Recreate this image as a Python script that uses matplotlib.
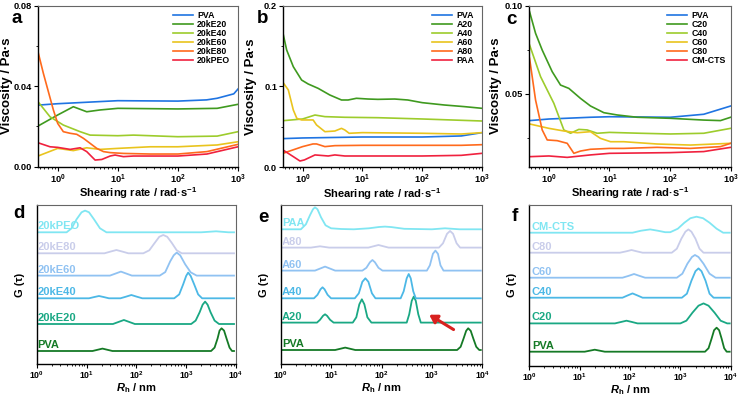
import numpy as np
import matplotlib
matplotlib.use('Agg')
import matplotlib.pyplot as plt
from matplotlib.ticker import FixedLocator, NullFormatter, FixedFormatter

plt.rcParams['font.family'] = ['Liberation Sans', 'DejaVu Sans']
plt.rcParams['font.weight'] = 'bold'
plt.rcParams['mathtext.fontset'] = 'custom'
plt.rcParams['mathtext.rm'] = 'Liberation Sans:bold'
plt.rcParams['mathtext.bf'] = 'Liberation Sans:bold'
plt.rcParams['mathtext.it'] = 'Liberation Sans:italic:bold'

# ---------------- Viscosity data (shear rate, Pa·s) ----------------
# panel a
a_labels = ['PVA', '20kE20', '20kE40', '20kE60', '20kE80', '20kPEO']
a_pva_x = [0.47, 1, 10, 100, 300, 450, 850, 1000]
a_pva_y = [0.0306, 0.0313, 0.0328, 0.0326, 0.0332, 0.034, 0.0362, 0.0386]
a_e20_x = [0.47, 1, 1.82, 3.04, 5.08, 10, 100, 450, 1000]
a_e20_y = [0.0202, 0.0257, 0.0298, 0.0273, 0.0282, 0.029, 0.0287, 0.029, 0.031]
a_e40_x = [0.47, 0.745, 1.24, 2.36, 3.46, 10, 18.2, 100, 450, 1000]
a_e40_y = [0.0323, 0.0248, 0.0207, 0.0174, 0.0157, 0.0154, 0.0157, 0.0149, 0.0152, 0.0174]
a_e60_x = [0.47, 1, 1.82, 3.04, 5.08, 10, 34.6, 100, 450, 1000]
a_e60_y = [0.0053, 0.0091, 0.008, 0.0094, 0.0086, 0.0091, 0.0099, 0.0099, 0.0108, 0.0124]
a_e80_x = [0.47, 0.577, 0.699, 0.847, 1, 1.24, 1.61, 2.07, 2.68, 3.46, 4.47, 5.77, 7.45, 12.4, 34.6, 100, 304, 1000]
a_e80_y = [0.0571, 0.0464, 0.0373, 0.0282, 0.0215, 0.0174, 0.0166, 0.0161, 0.0141, 0.0116, 0.0091, 0.0075, 0.007, 0.0066, 0.0063, 0.0063, 0.0075, 0.0111]
a_peo_x = [0.47, 0.745, 1, 1.61, 2.36, 3.04, 4.19, 5.42, 7.45, 9.0, 12.4, 18.2, 100, 304, 1000]
a_peo_y = [0.0119, 0.0099, 0.0096, 0.0086, 0.0094, 0.0075, 0.0033, 0.0036, 0.0053, 0.0058, 0.005, 0.0053, 0.0053, 0.0063, 0.0099]

# panel b
b_labels = ['PVA', 'A20', 'A40', 'A60', 'A80', 'PAA']
b_pva_x = [0.47, 1, 10, 100, 450, 1000]
b_pva_y = [0.0355, 0.0363, 0.0375, 0.0375, 0.0388, 0.0429]
b_a20_x = [0.47, 0.541, 0.699, 0.962, 1.24, 1.82, 2.85, 4.47, 5.77, 7.94, 12.4, 18.2, 34.6, 57.5, 100, 235, 505, 1000]
b_a20_y = [0.1658, 0.1452, 0.1245, 0.108, 0.1031, 0.0977, 0.0895, 0.0833, 0.0833, 0.0854, 0.0845, 0.0841, 0.0845, 0.0833, 0.08, 0.0771, 0.0751, 0.073]
b_a40_x = [0.47, 1, 1.61, 2.36, 5.08, 18.2, 100, 1000]
b_a40_y = [0.0577, 0.0598, 0.0647, 0.0627, 0.0619, 0.0614, 0.0598, 0.0573]
b_a60_x = [0.47, 0.577, 0.699, 0.80, 0.962, 1.5, 1.71, 2.36, 3.46, 4.47, 5.08, 6.0, 10, 100, 450, 1000]
b_a60_y = [0.105, 0.0957, 0.0709, 0.0606, 0.0586, 0.0586, 0.0524, 0.0441, 0.0449, 0.0482, 0.0462, 0.0421, 0.0429, 0.0421, 0.0412, 0.0429]
b_a80_x = [0.47, 1, 1.49, 1.71, 2.36, 3.46, 10, 100, 450, 1000]
b_a80_y = [0.0173, 0.0256, 0.0289, 0.0289, 0.0256, 0.0268, 0.0272, 0.0272, 0.0272, 0.028]
b_paa_x = [0.47, 0.699, 0.903, 1.07, 1.61, 2.68, 3.46, 5.08, 18.2, 100, 450, 1000]
b_paa_y = [0.0214, 0.0132, 0.0078, 0.0091, 0.0153, 0.014, 0.0153, 0.014, 0.014, 0.014, 0.0148, 0.0173]

# panel c
c_labels = ['PVA', 'C20', 'C40', 'C60', 'C80', 'CM-CTS']
c_pva_x = [0.48, 1, 4.86, 10, 101, 359, 1000]
c_pva_y = [0.0347, 0.0356, 0.0366, 0.0369, 0.0366, 0.0383, 0.043]
c_c20_x = [0.48, 0.603, 0.776, 1.135, 1.557, 2.137, 3.33, 4.86, 8.07, 13.4, 28.5, 101, 359, 677, 1000]
c_c20_y = [0.0966, 0.0843, 0.0748, 0.0625, 0.0549, 0.053, 0.0473, 0.043, 0.0392, 0.0379, 0.0366, 0.036, 0.035, 0.0347, 0.0366]
c_c40_x = [0.48, 0.729, 0.881, 1.209, 1.767, 2.277, 3.12, 4.28, 6.26, 10, 32.4, 101, 359, 1000]
c_c40_y = [0.0777, 0.0597, 0.054, 0.0445, 0.0294, 0.0275, 0.0297, 0.0294, 0.0275, 0.028, 0.0275, 0.0271, 0.0275, 0.0303]
c_c60_x = [0.48, 1, 1.767, 2.93, 4.86, 7.1, 10.4, 17.2, 61, 216, 1000]
c_c60_y = [0.0328, 0.0303, 0.0288, 0.0278, 0.0284, 0.0246, 0.0227, 0.0227, 0.0214, 0.0208, 0.0218]
c_c80_x = [0.48, 0.603, 0.776, 0.939, 1.372, 2.006, 2.584, 3.33, 4.86, 10, 17.2, 61, 216, 677, 1000]
c_c80_y = [0.0701, 0.0464, 0.0294, 0.0237, 0.0233, 0.0218, 0.0161, 0.0174, 0.0184, 0.0189, 0.0189, 0.0195, 0.0189, 0.0199, 0.0218]
c_cts_x = [0.48, 1, 2.006, 4.86, 10, 101, 359, 1000]
c_cts_y = [0.0142, 0.0146, 0.0138, 0.0152, 0.0161, 0.0165, 0.0171, 0.0195]

visc_colors = ['#1f74e2', '#3f9a1f', '#9dcc2c', '#e9c41e', '#ff6a1c', '#f0213e']

# ---------------- DLS data (log10 Rh, offset G(tau)) ----------------
dls_colors = ['#157a26', '#1aa884', '#4cb8e6', '#90c2f2', '#c9cdea', '#80e6f2']

d_labels = ['PVA', '20kE20', '20kE40', '20kE60', '20kE80', '20kPEO']
d_pva_lx = [0, 1.12, 1.22, 1.32, 1.42, 1.52, 3.50, 3.57, 3.63, 3.67, 3.71, 3.76, 3.81, 3.87, 3.92, 3.96]
d_pva_g = [13.3, 13.3, 14.5, 15.7, 14.5, 13.3, 13.3, 16.7, 25.8, 33.7, 36.0, 33.7, 25.8, 16.7, 13.3, 13.3]
d_e20_lx = [0, 1.53, 1.64, 1.75, 1.86, 1.97, 3.10, 3.19, 3.27, 3.33, 3.38, 3.43, 3.49, 3.57, 3.66, 3.96]
d_e20_g = [40.3, 40.3, 42.3, 44.3, 42.3, 40.3, 40.3, 43.7, 52, 59.6, 62.7, 59.6, 52, 43.7, 40.3, 40.3]
d_e40_lx = [0, 1.05, 1.15, 1.25, 1.35, 1.45, 1.68, 1.79, 1.90, 2.01, 2.12, 2.76, 2.86, 2.94, 3.00, 3.04, 3.09, 3.16, 3.24, 3.32, 3.96]
d_e40_g = [66, 66, 67.2, 68.3, 67.2, 66, 66, 67.6, 69.3, 67.6, 66, 66, 69.9, 80, 88.4, 91.7, 88.4, 80, 69.9, 66, 66]
d_e60_lx = [0, 1.47, 1.58, 1.69, 1.80, 1.91, 2.47, 2.58, 2.68, 2.75, 2.81, 2.88, 2.98, 3.09, 3.21, 3.96]
d_e60_g = [88.7, 88.7, 90.7, 92.7, 90.7, 88.7, 88.7, 92.2, 103, 109, 111.7, 109, 100, 92, 88.7, 88.7]
d_e80_lx = [0, 1.36, 1.48, 1.60, 1.72, 1.84, 2.14, 2.26, 2.37, 2.46, 2.54, 2.62, 2.71, 2.81, 2.91, 3.96]
d_e80_g = [111, 111, 112.7, 114.3, 112.7, 111, 111, 114, 121.5, 127.5, 129.3, 127.5, 121.5, 114, 111, 111]
d_peo_lx = [0, 0.60, 0.70, 0.80, 0.90, 0.97, 1.05, 1.15, 1.27, 1.40, 3.30, 3.60, 3.85, 3.96]
d_peo_g = [132, 132, 136, 145, 152, 153.7, 152, 145, 136, 132, 132, 133, 132, 132]

e_labels = ['PVA', 'A20', 'A40', 'A60', 'A80', 'PAA']
e_pva_lx = [0, 1.08, 1.18, 1.28, 1.38, 1.48, 3.50, 3.57, 3.63, 3.68, 3.72, 3.77, 3.82, 3.88, 3.94, 3.97]
e_pva_g = [14.3, 14.3, 15.5, 16.7, 15.5, 14.3, 14.3, 17.5, 26, 33.5, 36, 33.5, 26, 17.5, 14.3, 14.3]
e_a20_lx = [0, 0.72, 0.78, 0.84, 0.88, 0.92, 0.98, 1.05, 1.43, 1.50, 1.56, 1.61, 1.66, 1.72, 1.80, 2.50, 2.55, 2.60, 2.64, 2.68, 2.73, 2.78, 3.97]
e_a20_g = [41.7, 41.7, 44.5, 48.5, 50, 48.5, 44.5, 41.7, 41.7, 47, 60, 65, 60, 47, 41.7, 41.7, 50, 63.5, 67.7, 63.5, 50, 41.7, 41.7]
e_a40_lx = [0, 0.66, 0.73, 0.79, 0.83, 0.87, 0.93, 1.0, 1.47, 1.55, 1.62, 1.68, 1.74, 1.81, 1.88, 2.38, 2.44, 2.50, 2.54, 2.58, 2.63, 2.68, 3.97]
e_a40_g = [66, 66, 69.5, 75, 77, 75, 69.5, 66, 66, 71, 82.5, 86, 82.5, 71, 66, 66, 73, 86, 90.3, 86, 73, 66, 66]
e_a60_lx = [0, 0.68, 0.78, 0.88, 0.98, 1.08, 1.62, 1.70, 1.77, 1.82, 1.87, 1.94, 2.02, 2.90, 2.96, 3.02, 3.07, 3.12, 3.17, 3.23, 3.97]
e_a60_g = [93.7, 93.7, 95.7, 97.7, 95.7, 93.7, 93.7, 96.5, 102, 104.3, 102, 96.5, 93.7, 93.7, 99, 110.5, 113.7, 110.5, 99, 93.7, 93.7]
e_a80_lx = [0, 0.6, 0.78, 0.96, 1.74, 1.84, 1.94, 2.04, 2.14, 3.14, 3.22, 3.30, 3.36, 3.42, 3.49, 3.56, 3.97]
e_a80_g = [116.7, 116.7, 118, 116.7, 116.7, 118, 119.3, 118, 116.7, 116.7, 121, 130.5, 133.3, 130.5, 121, 116.7, 116.7]
e_paa_lx = [0, 0.40, 0.50, 0.58, 0.64, 0.68, 0.73, 0.80, 0.89, 1.00, 1.20, 1.45, 1.75, 1.95, 2.07, 2.20, 2.45, 3.00, 3.26, 3.55, 3.97]
e_paa_g = [135, 135, 140, 149, 155, 157, 155, 147, 139, 136, 135.3, 135, 136, 137.3, 137.7, 137.2, 135.5, 135, 136, 135, 135]

f_labels = ['PVA', 'C20', 'C40', 'C60', 'C80', 'CM-CTS']
f_pva_lx = [0, 1.1, 1.2, 1.3, 1.4, 1.5, 3.49, 3.56, 3.62, 3.67, 3.72, 3.77, 3.82, 3.87, 3.92, 3.98]
f_pva_g = [14, 14, 15, 16, 15, 14, 14, 17.5, 27, 35.5, 38, 35.5, 27, 17.5, 14, 14]
f_c20_lx = [0, 1.70, 1.82, 1.93, 2.04, 2.15, 3.00, 3.12, 3.24, 3.36, 3.46, 3.56, 3.68, 3.80, 3.93, 3.98]
f_c20_g = [42.3, 42.3, 43.7, 45, 43.7, 42.3, 42.3, 45, 53, 60, 62.3, 60, 53, 45, 42.3, 42.3]
f_c40_lx = [0, 1.85, 1.95, 2.05, 2.15, 2.25, 3.03, 3.13, 3.22, 3.30, 3.36, 3.42, 3.50, 3.58, 3.66, 3.98]
f_c40_g = [68, 68, 70.2, 72.3, 70.2, 68, 68, 72, 85, 94.5, 97.3, 94.5, 85, 72, 68, 68]
f_c60_lx = [0, 1.85, 1.97, 2.08, 2.19, 2.30, 2.93, 3.04, 3.14, 3.23, 3.29, 3.36, 3.46, 3.58, 3.70, 3.98]
f_c60_g = [88, 88, 89.8, 91.7, 89.8, 88, 88, 92, 102, 108.7, 110.7, 108.7, 102, 92, 88, 88]
f_c80_lx = [0, 1.80, 1.92, 2.03, 2.14, 2.25, 2.83, 2.93, 3.02, 3.10, 3.16, 3.22, 3.30, 3.38, 3.46, 3.98]
f_c80_g = [113, 113, 114.3, 115.7, 114.3, 113, 113, 117, 127, 134, 136.3, 134, 127, 117, 113, 113]
f_cts_lx = [0, 2.05, 2.22, 2.40, 2.55, 2.70, 2.80, 2.95, 3.08, 3.20, 3.32, 3.45, 3.58, 3.72, 3.85, 3.98]
f_cts_g = [133, 133, 135, 136.3, 135, 133.5, 133.5, 137, 143, 147.5, 149, 147.5, 143, 137, 133, 133]

# ---------------- layout ----------------
W, H = 740, 396
fig = plt.figure(figsize=(W / 100, H / 100), dpi=100)


def add_ax(l, t, r, b):
    return fig.add_axes([l / W, 1 - b / H, (r - l) / W, (b - t) / H])


def style_box(ax):
    for s in ['left', 'bottom']:
        ax.spines[s].set_color('black')
        ax.spines[s].set_linewidth(1.0)
    for s in ['top', 'right']:
        ax.spines[s].set_color('#666666')
        ax.spines[s].set_linewidth(0.8)


def decade_labels(n0, n1):
    return [r'$10^{%d}$' % k for k in range(n0, n1 + 1)]


def visc_panel(rect, series, labels, ylim, yt, ytl, ymin, leg_x, ylab_x):
    ax = add_ax(*rect)
    for (x, y), lab, col in zip(series, labels, visc_colors):
        ax.plot(x, y, color=col, lw=1.2, label=lab)
    ax.set_xscale('log')
    ax.set_xlim(0.47, 1000)
    ax.set_ylim(*ylim)
    ax.xaxis.set_major_locator(FixedLocator([1, 10, 100, 1000]))
    ax.xaxis.set_major_formatter(FixedFormatter(decade_labels(0, 3)))
    ax.xaxis.set_minor_locator(FixedLocator([m * 10.0 ** k for k in range(-1, 3) for m in range(2, 10)]))
    ax.xaxis.set_minor_formatter(NullFormatter())
    ax.yaxis.set_major_locator(FixedLocator(yt))
    ax.yaxis.set_major_formatter(FixedFormatter(ytl))
    ax.yaxis.set_minor_locator(FixedLocator(ymin))
    ax.tick_params(which='major', direction='out', length=3, width=0.8, labelsize=6.7, pad=1.2)
    ax.tick_params(which='minor', direction='out', length=1.6, width=0.6)
    style_box(ax)
    ax.set_xlabel('Shearing rate / rad·s$^{-1}$', fontsize=8, fontweight='bold')
    ax.xaxis.set_label_coords(0.5, -0.118)
    ax.set_ylabel('Viscosity / Pa·s', fontsize=9.5, fontweight='bold')
    ax.yaxis.set_label_coords(ylab_x, 0.5)
    ax.legend(loc='upper left', bbox_to_anchor=(leg_x, 0.965), frameon=False, fontsize=6.3,
              handlelength=2.3, handletextpad=0.45, labelspacing=0.0, borderpad=0, borderaxespad=0)
    return ax


axa = visc_panel((38, 5.7, 238, 166.7),
                 [(a_pva_x, a_pva_y), (a_e20_x, a_e20_y), (a_e40_x, a_e40_y),
                  (a_e60_x, a_e60_y), (a_e80_x, a_e80_y), (a_peo_x, a_peo_y)],
                 a_labels, (0, 0.08), [0, 0.04, 0.08], ['0.00', '0.04', '0.08'], [0.02, 0.06], 0.675, -0.125)
axb = visc_panel((283, 5.7, 482, 167.3),
                 [(b_pva_x, b_pva_y), (b_a20_x, b_a20_y), (b_a40_x, b_a40_y),
                  (b_a60_x, b_a60_y), (b_a80_x, b_a80_y), (b_paa_x, b_paa_y)],
                 b_labels, (0, 0.2), [0, 0.1, 0.2], ['0.0', '0.1', '0.2'], [0.05, 0.15], 0.75, -0.13)
axc = visc_panel((529, 5.7, 730.7, 166.7),
                 [(c_pva_x, c_pva_y), (c_c20_x, c_c20_y), (c_c40_x, c_c40_y),
                  (c_c60_x, c_c60_y), (c_c80_x, c_c80_y), (c_cts_x, c_cts_y)],
                 c_labels, (0.0085, 0.10), [0.05, 0.10], ['0.05', '0.10'], [0.025, 0.075], 0.685, -0.134)


def dls_panel(rect, series, labels, ytop, lab_x, lab_dy, ylab_x):
    ax = add_ax(*rect)
    for (lx, g), lab, col in zip(series, labels, dls_colors):
        ax.plot(10 ** np.asarray(lx), g, color=col, lw=1.3)
        ax.text(lab_x, g[0] + lab_dy, lab, color=col, fontsize=8, fontweight='bold',
                ha='left', va='bottom')
    ax.set_xscale('log')
    ax.set_xlim(1, 1e4)
    ax.set_ylim(0, ytop)
    ax.xaxis.set_major_locator(FixedLocator([1, 10, 100, 1000, 10000]))
    ax.xaxis.set_major_formatter(FixedFormatter(decade_labels(0, 4)))
    ax.xaxis.set_minor_locator(FixedLocator([m * 10.0 ** k for k in range(0, 4) for m in range(2, 10)]))
    ax.xaxis.set_minor_formatter(NullFormatter())
    ax.set_yticks([])
    ax.tick_params(which='major', direction='out', length=3, width=0.8, labelsize=6.3, pad=0.8)
    ax.tick_params(which='minor', direction='out', length=1.6, width=0.6)
    style_box(ax)
    ax.set_xlabel(r'$R_{\mathrm{h}}$ / nm', fontsize=8, fontweight='bold')
    ax.xaxis.set_label_coords(0.5, -0.106)
    ax.set_ylabel('G (τ)', fontsize=8, fontweight='bold')
    ax.yaxis.set_label_coords(ylab_x, 0.5)
    return ax


axd = dls_panel((36.7, 205, 236, 364.3),
                [(d_pva_lx, d_pva_g), (d_e20_lx, d_e20_g), (d_e40_lx, d_e40_g),
                 (d_e60_lx, d_e60_g), (d_e80_lx, d_e80_g), (d_peo_lx, d_peo_g)],
                d_labels, 159.3, 1.03, 1.0, -0.06)
axe = dls_panel((280.7, 205, 482.3, 364.3),
                [(e_pva_lx, e_pva_g), (e_a20_lx, e_a20_g), (e_a40_lx, e_a40_g),
                 (e_a60_lx, e_a60_g), (e_a80_lx, e_a80_g), (e_paa_lx, e_paa_g)],
                e_labels, 159.3, 1.05, 1.0, -0.06)
axf = dls_panel((529.3, 205, 730.7, 365.7),
                [(f_pva_lx, f_pva_g), (f_c20_lx, f_c20_g), (f_c40_lx, f_c40_g),
                 (f_c60_lx, f_c60_g), (f_c80_lx, f_c80_g), (f_cts_lx, f_cts_g)],
                f_labels, 160.7, 1.12, 1.0, -0.06)

# red arrow in panel e
axe.annotate('', xy=(795, 51), xytext=(3000, 33.3),
             arrowprops=dict(arrowstyle='-|>,head_length=0.45,head_width=0.28', color='#d8211f', lw=2.2))

# panel letters
for letter, x, y in [('a', 12, 23), ('b', 257, 23), ('c', 506, 24),
                     ('d', 13, 218), ('e', 258, 222), ('f', 512, 221)]:
    fig.text(x / W, 1 - y / H, letter, fontsize=13.5, fontweight='bold', ha='left', va='baseline')

fig.savefig('out.png', dpi=100)
